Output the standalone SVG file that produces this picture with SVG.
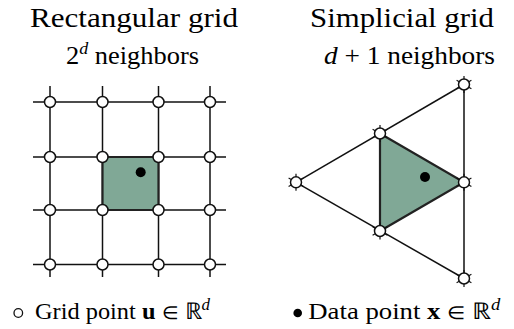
<svg xmlns="http://www.w3.org/2000/svg" width="514" height="329" viewBox="0 0 514 329">
<style>
.ln{stroke:#111;stroke-width:1.5;fill:none;stroke-linecap:butt}
.cell{fill:#80a896;stroke:#222;stroke-width:2.2;stroke-linejoin:miter}
.gp{fill:#fff;stroke:#111;stroke-width:1.5}
.dp{fill:#000}
.t{font-family:"Liberation Serif","Times New Roman",serif;fill:#000;text-anchor:middle}
.tl{font-family:"Liberation Serif","Times New Roman",serif;fill:#000}
.el{font-size:18px}
.stub{stroke:#111;stroke-width:1.2}
</style>
<defs>
<g id="snode">
<line class="stub" x1="0" y1="-8.5" x2="0" y2="8.5"/>
<line class="stub" x1="-7.4" y1="-4.25" x2="7.4" y2="4.25"/>
<line class="stub" x1="-7.4" y1="4.25" x2="7.4" y2="-4.25"/>
<circle class="gp" r="5.5"/>
</g>
</defs>
<g id="titles">
<text class="t" x="134" y="27" font-size="27" textLength="208" lengthAdjust="spacingAndGlyphs">Rectangular grid</text>
<text class="t" x="402" y="27" font-size="27" textLength="184" lengthAdjust="spacingAndGlyphs">Simplicial grid</text>
<text class="tl" x="66" y="64" font-size="25" textLength="133" lengthAdjust="spacingAndGlyphs">2<tspan font-size="17" dy="-10" font-style="italic">d</tspan><tspan dy="10"> neighbors</tspan></text>
<text class="tl" x="324" y="64" font-size="25" textLength="171" lengthAdjust="spacingAndGlyphs"><tspan font-style="italic">d</tspan> + 1 neighbors</text>
</g>
<g id="connectors">
<line class="ln" x1="33" y1="102" x2="226" y2="102"/>
<line class="ln" x1="33" y1="157" x2="226" y2="157"/>
<line class="ln" x1="33" y1="210" x2="226" y2="210"/>
<line class="ln" x1="33" y1="264.5" x2="226" y2="264.5"/>
<line class="ln" x1="50" y1="86" x2="50" y2="277"/>
<line class="ln" x1="102.5" y1="86" x2="102.5" y2="277"/>
<line class="ln" x1="158.5" y1="86" x2="158.5" y2="277"/>
<line class="ln" x1="210" y1="86" x2="210" y2="277"/>
<polygon id="rect-cell" class="cell" points="102.5,157 158.5,157 158.5,210 102.5,210"/>
<line class="ln" x1="464" y1="84.5" x2="296" y2="182.3"/>
<line class="ln" x1="296" y1="182.3" x2="464" y2="278.5"/>
<line class="ln" x1="464" y1="84.5" x2="464" y2="278.5"/>
<polygon id="simplex-cell" class="cell" points="380,133.5 464,182.3 380,231"/>
</g>
<g id="rect-nodes">
<circle class="gp" cx="50" cy="102" r="5.5"/><circle class="gp" cx="102.5" cy="102" r="5.5"/><circle class="gp" cx="158.5" cy="102" r="5.5"/><circle class="gp" cx="210" cy="102" r="5.5"/>
<circle class="gp" cx="50" cy="157" r="5.5"/><circle class="gp" cx="102.5" cy="157" r="5.5"/><circle class="gp" cx="158.5" cy="157" r="5.5"/><circle class="gp" cx="210" cy="157" r="5.5"/>
<circle class="gp" cx="50" cy="210" r="5.5"/><circle class="gp" cx="102.5" cy="210" r="5.5"/><circle class="gp" cx="158.5" cy="210" r="5.5"/><circle class="gp" cx="210" cy="210" r="5.5"/>
<circle class="gp" cx="50" cy="264.5" r="5.5"/><circle class="gp" cx="102.5" cy="264.5" r="5.5"/><circle class="gp" cx="158.5" cy="264.5" r="5.5"/><circle class="gp" cx="210" cy="264.5" r="5.5"/>
</g>
<g id="rect-data"><circle class="dp" cx="140.7" cy="172.3" r="5"/></g>
<g id="simplex-nodes">
<use href="#snode" x="464" y="84.5"/>
<use href="#snode" x="380" y="133.5"/>
<use href="#snode" x="296" y="182.3"/>
<use href="#snode" x="464" y="182.3"/>
<use href="#snode" x="380" y="231"/>
<use href="#snode" x="464" y="278.5"/>
</g>
<g id="simplex-data"><circle class="dp" cx="425" cy="177" r="5"/></g>
<g id="legend">
<circle class="gp" cx="18.3" cy="313" r="4.3" style="stroke-width:1.3"/>
<text class="tl" x="35" y="319" font-size="23" textLength="175" lengthAdjust="spacingAndGlyphs">Grid point <tspan font-weight="bold">u</tspan> <tspan class="el">∈</tspan> ℝ<tspan font-size="16" dy="-9" font-style="italic">d</tspan></text>
<circle class="dp" cx="297.7" cy="313" r="4.3"/>
<text class="tl" x="308.3" y="319" font-size="23" textLength="192" lengthAdjust="spacingAndGlyphs">Data point <tspan font-weight="bold">x</tspan> <tspan class="el">∈</tspan> ℝ<tspan font-size="16" dy="-9" font-style="italic">d</tspan></text>
</g>
</svg>
